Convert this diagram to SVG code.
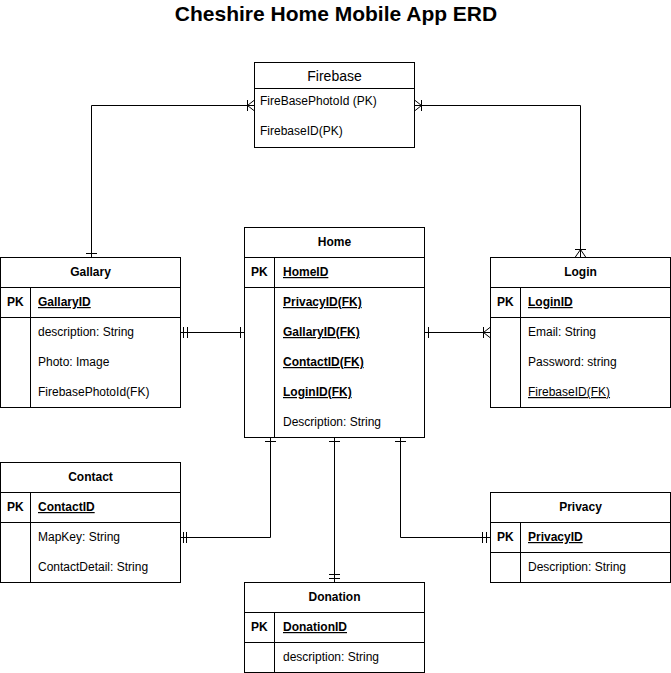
<svg xmlns="http://www.w3.org/2000/svg" width="671" height="673" viewBox="0 0 671 673">
<style>
.box{fill:#fff;stroke:#000;stroke-width:1}
.ln{fill:none;stroke:#000;stroke-width:1}
text{font-family:"Liberation Sans",Arial,sans-serif;font-size:12px;fill:#000}
.h{font-weight:bold;text-anchor:middle}
.b{font-weight:bold}
.u{text-decoration:underline}
.t{font-size:21px;font-weight:bold;text-anchor:middle}
</style>
<rect width="671" height="673" fill="#fff"/>
<text class="t" x="336" y="21">Cheshire Home Mobile App ERD</text>
<g id="connectors" class="ln">
  <!-- Firebase - Gallary -->
  <path d="M254.5 105.5 H91.5 V257.5"/>
  <path d="M247.5 100 V111 M247.5 105.5 L254.5 100 M247.5 105.5 L254.5 111"/>
  <path d="M86 253.5 H97"/>
  <!-- Firebase - Login -->
  <path d="M414.5 105.5 H580.5 V257.5"/>
  <path d="M421.5 100 V111 M421.5 105.5 L414.5 100 M421.5 105.5 L414.5 111"/>
  <path d="M575 249.5 H586 M580.5 249.5 L575 257.5 M580.5 249.5 L586 257.5"/>
  <!-- Gallary - Home -->
  <path d="M180.5 332.5 H244.5"/>
  <path d="M183.5 327 V338 M187.5 327 V338 M240.5 327 V338"/>
  <!-- Home - Login -->
  <path d="M424.5 332.5 H490.5"/>
  <path d="M428.5 327 V338 M483.5 327 V338 M483.5 332.5 L490.5 327 M483.5 332.5 L490.5 338"/>
  <!-- Home - Contact -->
  <path d="M270.5 437.5 V537.5 H180.5"/>
  <path d="M265 441.5 H276 M183.5 532 V543 M186.5 532 V543"/>
  <!-- Home - Donation -->
  <path d="M334.5 437.5 V582.5"/>
  <path d="M329 441.5 H340 M329 574.5 H340 M329 578.5 H340"/>
  <!-- Home - Privacy -->
  <path d="M400.5 437.5 V537.5 H490.5"/>
  <path d="M395 441.5 H406 M482.5 532 V543 M486.5 532 V543"/>
</g>
<g id="firebase">
  <rect class="box" x="254.5" y="62.5" width="160" height="85"/>
  <path class="ln" d="M254.5 88.5 H414.5"/>
  <text x="334.5" y="81" text-anchor="middle" style="font-size:14px">Firebase</text>
  <text x="260" y="105">FireBasePhotoId (PK)</text>
  <text x="260" y="135">FirebaseID(PK)</text>
</g>
<g id="gallary">
  <rect class="box" x="0.5" y="257.5" width="180" height="150"/>
  <path class="ln" d="M0.5 287.5 H180.5 M0.5 317.5 H180.5 M30.5 287.5 V407.5"/>
  <text class="h" x="90.5" y="276">Gallary</text>
  <text class="b" x="7" y="306">PK</text>
  <text class="b u" x="38" y="306">GallaryID</text>
  <text x="38" y="336">description: String</text>
  <text x="38" y="366">Photo: Image</text>
  <text x="38" y="396">FirebasePhotoId(FK)</text>
</g>
<g id="home">
  <rect class="box" x="244.5" y="227.5" width="180" height="210"/>
  <path class="ln" d="M244.5 257.5 H424.5 M244.5 287.5 H424.5 M274.5 257.5 V437.5"/>
  <text class="h" x="334.5" y="246">Home</text>
  <text class="b" x="251" y="276">PK</text>
  <text class="b u" x="283" y="276">HomeID</text>
  <text class="b u" x="283" y="306">PrivacyID(FK)</text>
  <text class="b u" x="283" y="336">GallaryID(FK)</text>
  <text class="b u" x="283" y="366">ContactID(FK)</text>
  <text class="b u" x="283" y="396">LoginID(FK)</text>
  <text x="283" y="426">Description: String</text>
</g>
<g id="login">
  <rect class="box" x="490.5" y="257.5" width="180" height="150"/>
  <path class="ln" d="M490.5 287.5 H670.5 M490.5 317.5 H670.5 M520.5 287.5 V407.5"/>
  <text class="h" x="580.5" y="276">Login</text>
  <text class="b" x="497" y="306">PK</text>
  <text class="b u" x="528" y="306">LoginID</text>
  <text x="528" y="336">Email: String</text>
  <text x="528" y="366">Password: string</text>
  <text class="u" x="528" y="396">FirebaseID(FK)</text>
</g>
<g id="contact">
  <rect class="box" x="0.5" y="462.5" width="180" height="120"/>
  <path class="ln" d="M0.5 492.5 H180.5 M0.5 522.5 H180.5 M30.5 492.5 V582.5"/>
  <text class="h" x="90.5" y="481">Contact</text>
  <text class="b" x="7" y="511">PK</text>
  <text class="b u" x="38" y="511">ContactID</text>
  <text x="38" y="541">MapKey: String</text>
  <text x="38" y="571">ContactDetail: String</text>
</g>
<g id="privacy">
  <rect class="box" x="490.5" y="492.5" width="180" height="90"/>
  <path class="ln" d="M490.5 522.5 H670.5 M490.5 552.5 H670.5 M520.5 522.5 V582.5"/>
  <text class="h" x="580.5" y="511">Privacy</text>
  <text class="b" x="497" y="541">PK</text>
  <text class="b u" x="528" y="541">PrivacyID</text>
  <text x="528" y="571">Description: String</text>
</g>
<g id="donation">
  <rect class="box" x="244.5" y="582.5" width="180" height="90"/>
  <path class="ln" d="M244.5 612.5 H424.5 M244.5 642.5 H424.5 M274.5 612.5 V672.5"/>
  <text class="h" x="334.5" y="601">Donation</text>
  <text class="b" x="251" y="631">PK</text>
  <text class="b u" x="283" y="631">DonationID</text>
  <text x="283" y="661">description: String</text>
</g>
</svg>
